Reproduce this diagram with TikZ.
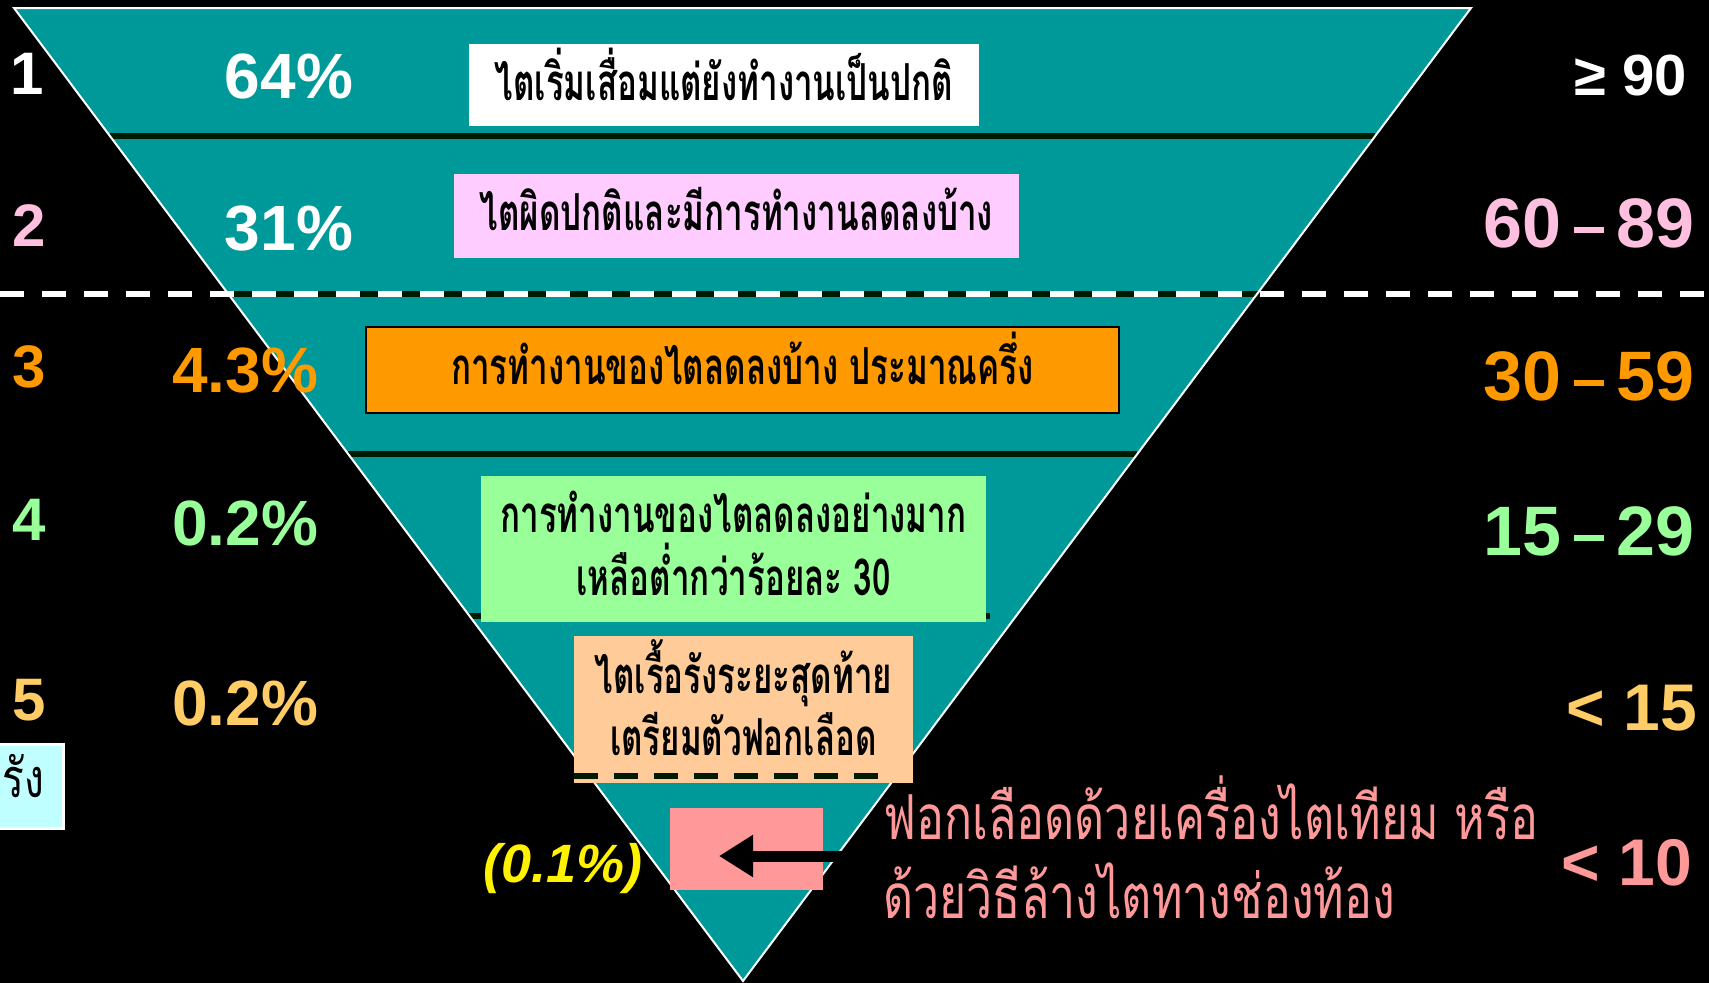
\documentclass[tikz,border=0pt]{standalone}
\usepackage{fontspec}
\setmainfont{Liberation Sans}
\newfontfamily\thaibox[Script=Thai, FakeStretch=0.65]{Loma}
\newfontfamily\thaitext[Script=Thai, FakeStretch=0.75]{Loma}
\usetikzlibrary{arrows.meta}
\definecolor{tealc}{HTML}{009999}
\definecolor{darkl}{HTML}{001A00}
\definecolor{pinkt}{HTML}{FFC0E0}
\definecolor{pinkb}{HTML}{FFCCFF}
\definecolor{orangec}{HTML}{FF9900}
\definecolor{greenc}{HTML}{99FF99}
\definecolor{lorange}{HTML}{FFCC66}
\definecolor{peach}{HTML}{FFCC99}
\definecolor{salmon}{HTML}{FF9999}
\definecolor{cyanb}{HTML}{C0FFFF}
\newcommand\rngdash{\hspace{13pt}\rule[14pt]{30pt}{6pt}\hspace{13pt}}
\begin{document}
\begin{tikzpicture}[x=1pt,y=-1pt,
  rownum/.style={inner sep=0pt, anchor=center, font=\bfseries\fontsize{60}{60}\selectfont},
  pct/.style={inner sep=0pt, anchor=center, font=\bfseries\fontsize{64}{64}\selectfont},
  rng/.style={inner sep=0pt, anchor=east, font=\bfseries\fontsize{70}{70}\selectfont},
  boxc/.style={inner sep=0pt},
  thbox/.style={inner sep=0pt, anchor=base, text=black, font=\thaibox\bfseries\fontsize{51}{51}\selectfont},
  thtext/.style={inner sep=0pt, anchor=base west, text=salmon, font=\thaitext\fontsize{62}{62}\selectfont},
  sepline/.style={draw=darkl, line width=6pt},
]
\path[use as bounding box, fill=black] (0,0) rectangle (1709,983);

% funnel
\coordinate (tl) at (14,8);
\coordinate (tr) at (1471,8);
\coordinate (ap) at (743,981);
\fill[tealc] (tl) -- (tr) -- (ap) -- cycle;

% separators
\coordinate (s1a) at (110,136);  \coordinate (s1b) at (1375,136);
\draw[sepline] (s1a) -- (s1b);
\coordinate (s2a) at (216,294);  \coordinate (s2b) at (1270,294);
\draw[sepline] (s2a) -- (s2b);
\coordinate (s2l) at (0,294);  \coordinate (s2r) at (1709,294);
\draw[white, line width=6pt, dash pattern=on 24pt off 18pt] (s2l) -- (s2r);
\coordinate (s3a) at (348,454);  \coordinate (s3b) at (1137,454);
\draw[sepline] (s3a) -- (s3b);
\coordinate (s4a) at (469,616);  \coordinate (s4b) at (990,616);
\draw[sepline] (s4a) -- (s4b);

\draw[white, line width=2pt, line join=miter] (tl) -- (tr) -- (ap) -- cycle;

% boxes
\node[boxc, fill=white, minimum width=510pt, minimum height=82pt] (b1) at (724,85) {};
\node[thbox] (t1) at (724,100) {ไตเริ่มเสื่อมแต่ยังทำงานเป็นปกติ};
\node[boxc, fill=pinkb, minimum width=565pt, minimum height=84pt] (b2) at (736.5,216) {};
\node[thbox] (t2) at (736.5,230) {ไตผิดปกติและมีการทำงานลดลงบ้าง};
\node[boxc, fill=orangec, draw=black, line width=2pt, minimum width=753pt, minimum height=86pt] (b3) at (742.5,370) {};
\node[thbox] (t3) at (742.5,384) {การทำงานของไตลดลงบ้าง ประมาณครึ่ง};
\node[boxc, fill=greenc, minimum width=505pt, minimum height=146pt] (b4) at (733.5,549) {};
\node[thbox] (t4a) at (733.5,532) {การทำงานของไตลดลงอย่างมาก};
\node[thbox] (t4b) at (733.5,595) {เหลือต่ำกว่าร้อยละ 30};
\node[boxc, fill=peach, minimum width=339pt, minimum height=147pt] (b5) at (743.5,709.5) {};
\node[thbox] (t5a) at (743.5,693) {ไตเรื้อรังระยะสุดท้าย};
\node[thbox] (t5b) at (743.5,755) {เตรียมตัวฟอกเลือด};
\coordinate (d5a) at (574,776); \coordinate (d5b) at (881,776);
\draw[darkl, line width=6pt, dash pattern=on 24pt off 16pt] (d5a) -- (d5b);
\node[boxc, fill=salmon, minimum width=153pt, minimum height=82pt] (b6) at (746.5,849) {};

% arrow
\coordinate (arS) at (845,856);
\coordinate (arE) at (719,856);
\draw[black, line width=11pt, -{Triangle[length=34pt,width=40pt]}] (arS) -- (arE);

% left cyan box (running off the page edge)
\node[fill=cyanb, draw=white, line width=3pt, inner sep=0pt, minimum width=140pt, minimum height=84pt] (cb) at (-7,786) {};
\node[inner sep=0pt, anchor=base east, font=\thaitext\fontsize{54}{54}\selectfont] (cbt) at (44,797) {รัง};

% row numbers
\node[rownum, text=white] (n1) at (27,74) {1};
\node[rownum, text=pinkt] (n2) at (29,226) {2};
\node[rownum, text=orangec] (n3) at (29,367) {3};
\node[rownum, text=greenc] (n4) at (29,520) {4};
\node[rownum, text=lorange] (n5) at (29,700) {5};

% percentages
\node[pct, text=white] (p1) at (289,76) {64\%};
\node[pct, text=white] (p2) at (289,229) {31\%};
\node[pct, text=orangec] (p3) at (245,371) {4.3\%};
\node[pct, text=greenc] (p4) at (245,523) {0.2\%};
\node[pct, text=lorange] (p5) at (245,703) {0.2\%};
\node[inner sep=0pt, text=yellow, font=\bfseries\itshape\fontsize{54}{54}\selectfont] (p6) at (563,869) {(0.1\%)};

% ranges
\node[rng, text=white, font=\bfseries\fontsize{58}{58}\selectfont] (r1) at (1687,76) {≥ 90};
\node[rng, text=pinkt] (r2) at (1695,223) {60\rngdash 89};
\node[rng, text=orangec] (r3) at (1695,376) {30\rngdash 59};
\node[rng, text=greenc] (r4) at (1695,531) {15\rngdash 29};
\node[rng, text=lorange, font=\bfseries\fontsize{66}{66}\selectfont] (r5) at (1697,708) {< 15};
\node[rng, text=salmon, font=\bfseries\fontsize{66}{66}\selectfont] (r6) at (1692,863) {< 10};

% dialysis text
\node[thtext] (dt1) at (883,839) {ฟอกเลือดด้วยเครื่องไตเทียม หรือ};
\node[thtext] (dt2) at (883,918) {ด้วยวิธีล้างไตทางช่องท้อง};
\end{tikzpicture}
\end{document}
